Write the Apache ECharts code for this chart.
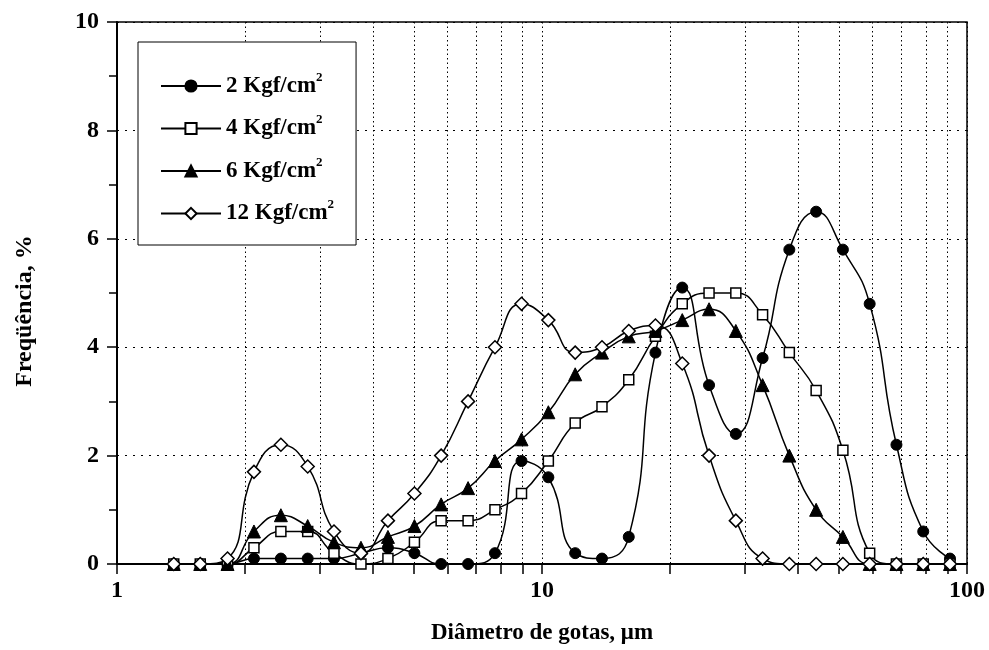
<!DOCTYPE html>
<html>
<head>
<meta charset="utf-8">
<script src="https://cdn.jsdelivr.net/npm/echarts@6/dist/echarts.min.js"></script>
<style>
  html, body { margin: 0; padding: 0; background: #fff; }
  #chart { width: 989px; height: 650px; }
</style>
</head>
<body>
<div id="chart"></div>
<script>
// droplet diameter bins (um), shared by all series
var diam = [1.36, 1.57, 1.82, 2.10, 2.43, 2.81, 3.24, 3.75, 4.34, 5.01,
            5.79, 6.70, 7.75, 8.95, 10.35, 11.97, 13.84, 16.00, 18.49, 21.38,
            24.72, 28.58, 33.04, 38.19, 44.16, 51.05, 59.02, 68.23, 78.89, 91.20];

var freq2  = [0, 0, 0, 0.1, 0.1, 0.1, 0.1, 0.2, 0.3, 0.2,
              0, 0, 0.2, 1.9, 1.6, 0.2, 0.1, 0.5, 3.9, 5.1,
              3.3, 2.4, 3.8, 5.8, 6.5, 5.8, 4.8, 2.2, 0.6, 0.1];
var freq4  = [0, 0, 0, 0.3, 0.6, 0.6, 0.2, 0, 0.1, 0.4,
              0.8, 0.8, 1.0, 1.3, 1.9, 2.6, 2.9, 3.4, 4.2, 4.8,
              5.0, 5.0, 4.6, 3.9, 3.2, 2.1, 0.2, 0, 0, 0];
var freq6  = [0, 0, 0, 0.6, 0.9, 0.7, 0.4, 0.3, 0.5, 0.7,
              1.1, 1.4, 1.9, 2.3, 2.8, 3.5, 3.9, 4.2, 4.3, 4.5,
              4.7, 4.3, 3.3, 2.0, 1.0, 0.5, 0, 0, 0, 0];
var freq12 = [0, 0, 0.1, 1.7, 2.2, 1.8, 0.6, 0.2, 0.8, 1.3,
              2.0, 3.0, 4.0, 4.8, 4.5, 3.9, 4.0, 4.3, 4.4, 3.7,
              2.0, 0.8, 0.1, 0, 0, 0, 0, 0, 0, 0];

var seriesNames = ['2 Kgf/cm²', '4 Kgf/cm²', '6 Kgf/cm²', '12 Kgf/cm²'];

// log-axis ticks / grid lines: 1..10 and 10..100
var xTicks = [1, 2, 3, 4, 5, 6, 7, 8, 9, 10, 20, 30, 40, 50, 60, 70, 80, 90, 100];

var FONT = '"Liberation Serif", "Times New Roman", serif';

function pairs(ys) {
  return diam.map(function (d, i) { return [d, ys[i]]; });
}

function makeSeries(name, ys, symbol, size, filled) {
  return {
    name: name,
    type: 'line',
    data: pairs(ys),
    smooth: 0.5,
    symbol: symbol,
    symbolSize: size,
    showAllSymbol: true,
    lineStyle: { color: '#000', width: 1.5 },
    itemStyle: filled
      ? { color: '#000', borderColor: '#000', borderWidth: 1 }
      : { color: '#fff', borderColor: '#000', borderWidth: 1.5 },
    emphasis: { disabled: true }
  };
}

var chart = echarts.init(document.getElementById('chart'));

var option = {
  animation: false,
  backgroundColor: '#fff',
  grid: {
    left: 117, right: 22, top: 22, bottom: 86,
    show: true, borderColor: '#000', borderWidth: 1.5
  },
  legend: {
    left: 138, top: 42,
    orient: 'vertical',
    padding: [29, 22, 20, 22],
    itemGap: 16,
    itemWidth: 60,
    itemHeight: 14,
    borderColor: '#000',
    borderWidth: 1,
    backgroundColor: '#fff',
    data: seriesNames,
    formatter: function (n) {
      return '{t|' + n.replace('²', '') + '}{s|2}';
    },
    textStyle: {
      rich: {
        t: { fontFamily: FONT, fontSize: 23, fontWeight: 'bold', color: '#000', lineHeight: 30 },
        s: { fontFamily: FONT, fontSize: 13, fontWeight: 'bold', color: '#000', lineHeight: 14, verticalAlign: 'top' }
      }
    }
  },
  xAxis: {
    type: 'log',
    logBase: 10,
    min: 1,
    max: 100,
    name: 'Diâmetro de gotas, μm',
    nameLocation: 'middle',
    nameGap: 58,
    nameTextStyle: { fontFamily: FONT, fontSize: 23, fontWeight: 'bold', color: '#000' },
    axisLine: { lineStyle: { color: '#000', width: 2 } },
    axisTick: { customValues: xTicks, length: 10, lineStyle: { color: '#000', width: 1.5 } },
    axisLabel: { fontFamily: FONT, fontSize: 24, fontWeight: 'bold', color: '#000', margin: 15 },
    splitLine: { show: true, lineStyle: { color: '#000', width: 1, type: [1.5, 3] } }
  },
  yAxis: {
    type: 'value',
    min: 0,
    max: 10,
    interval: 2,
    name: 'Freqüência, %',
    nameLocation: 'middle',
    nameGap: 80,
    nameTextStyle: { fontFamily: FONT, fontSize: 24, fontWeight: 'bold', color: '#000', padding: [0, 36, 0, 0] },
    axisLine: { show: true, lineStyle: { color: '#000', width: 2 } },
    axisTick: { show: true, length: 10, lineStyle: { color: '#000', width: 1.5 } },
    minorTick: { show: true, splitNumber: 2, length: 8, lineStyle: { color: '#000', width: 1.5 } },
    axisLabel: { fontFamily: FONT, fontSize: 24, fontWeight: 'bold', color: '#000', margin: 18 },
    splitLine: { show: true, lineStyle: { color: '#000', width: 1, type: [2, 6] } }
  },
  series: [
    makeSeries(seriesNames[0], freq2, 'circle', 11, true),
    makeSeries(seriesNames[1], freq4, 'rect', 10, false),
    makeSeries(seriesNames[2], freq6, 'triangle', 13, true),
    makeSeries(seriesNames[3], freq12, 'diamond', 13, false)
  ]
};

chart.setOption(option);
</script>
</body>
</html>
